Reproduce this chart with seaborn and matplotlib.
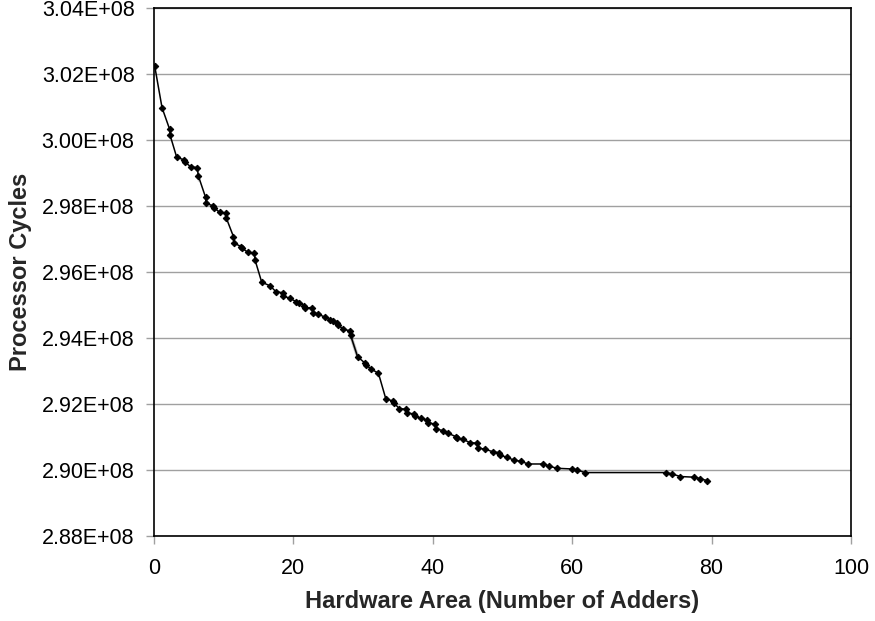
import seaborn as sns
import matplotlib.pyplot as plt
import pandas as pd
from matplotlib.ticker import FuncFormatter, MultipleLocator

# Hardware area (number of adders) vs processor cycles
area = [0.1, 1.15, 2.25, 2.3, 3.25, 4.35, 4.5, 5.25, 6.2, 6.35, 6.35, 6.35,
        7.4, 7.45, 8.5, 8.6, 9.4, 10.3, 10.4, 10.4, 11.4, 11.5, 12.5, 12.65,
        13.5, 14.4, 14.5, 15.45, 16.65, 17.5, 18.45, 18.55, 19.5, 20.4, 20.75,
        21.5, 21.7, 22.7, 22.85, 23.6, 24.5, 25.25, 25.7, 26.3, 26.4, 27.15,
        28.1, 28.2, 28.2, 29.2, 29.2, 30.3, 30.4, 31.2, 32.2, 32.2, 33.25,
        34.35, 34.45, 35.2, 36.15, 36.35, 37.3, 37.5, 38.25, 39.1, 39.3, 40.3,
        40.45, 41.4, 42.2, 43.3, 43.5, 44.3, 45.3, 46.3, 46.55, 47.5, 48.6,
        49.5, 49.7, 50.6, 51.65, 52.6, 53.7, 55.85, 56.7, 57.75, 59.9, 60.7,
        61.8, 73.45, 74.3, 75.5, 77.5, 78.3, 79.4]
cycles = [3.0224e8, 3.0098e8, 3.0032e8, 3.0015e8, 2.9948e8, 2.9939e8, 2.9932e8,
          2.9919e8, 2.9916e8, 2.9907e8, 2.9893e8, 2.9876e8, 2.9826e8, 2.9808e8,
          2.9800e8, 2.9795e8, 2.9781e8, 2.9778e8, 2.9770e8, 2.9754e8, 2.9707e8,
          2.9687e8, 2.9677e8, 2.9672e8, 2.9659e8, 2.9657e8, 2.9636e8, 2.9569e8,
          2.9558e8, 2.9540e8, 2.9537e8, 2.9527e8, 2.9520e8, 2.9510e8, 2.9507e8,
          2.9498e8, 2.9491e8, 2.9492e8, 2.9477e8, 2.9472e8, 2.9463e8, 2.9455e8,
          2.9451e8, 2.9446e8, 2.9440e8, 2.9426e8, 2.9422e8, 2.9418e8, 2.9399e8,
          2.9354e8, 2.9333e8, 2.9323e8, 2.9318e8, 2.9305e8, 2.9303e8, 2.9283e8,
          2.9216e8, 2.9208e8, 2.9202e8, 2.9186e8, 2.9184e8, 2.9172e8, 2.9170e8,
          2.9164e8, 2.9156e8, 2.9152e8, 2.9143e8, 2.9139e8, 2.9125e8, 2.9119e8,
          2.9111e8, 2.9101e8, 2.9097e8, 2.9093e8, 2.9083e8, 2.9081e8, 2.9066e8,
          2.9063e8, 2.9055e8, 2.9052e8, 2.9045e8, 2.9038e8, 2.9030e8, 2.9026e8,
          2.9018e8, 2.9018e8, 2.9012e8, 2.9005e8, 2.9003e8, 2.9000e8, 2.8992e8,
          2.8992e8, 2.8988e8, 2.8980e8, 2.8978e8, 2.8974e8, 2.8967e8]

df = pd.DataFrame({'area': area, 'cycles': cycles})

sns.set_style("white")
plt.rcParams['font.family'] = ['Liberation Sans', 'DejaVu Sans']

fig = plt.figure(figsize=(8.75, 6.21), dpi=100)
ax = fig.add_axes([0.176, 0.137, 0.7966, 0.8502])

sns.lineplot(data=df, x='area', y='cycles', sort=False, color='black',
             linewidth=1.1, marker='D', markersize=3.3, markeredgecolor='black',
             ax=ax)

ax.set_xlim(0, 100)
ax.set_ylim(2.88e8, 3.04e8)
ax.xaxis.set_major_locator(MultipleLocator(20))
ax.yaxis.set_major_locator(MultipleLocator(0.02e8))
ax.yaxis.set_major_formatter(FuncFormatter(lambda v, p: f"{v:.2E}"))

# Horizontal gridlines only
ax.grid(axis='y', color='#a0a0a0', linewidth=1)
ax.grid(axis='x', visible=False)

for s in ax.spines.values():
    s.set_color('black')
    s.set_linewidth(1.2)

ax.tick_params(axis='both', direction='out', length=6, width=1,
               color='#a0a0a0', labelcolor='black', labelsize=15.5)
ax.tick_params(axis='y', pad=8, left=True)
ax.tick_params(axis='x', pad=10, bottom=True)

ax.set_xlabel('Hardware Area (Number of Adders)', fontsize=17,
              fontweight='bold', labelpad=8)
ax.set_ylabel('Processor Cycles', fontsize=17, fontweight='bold', labelpad=7)

plt.savefig('out.png', dpi=100)
